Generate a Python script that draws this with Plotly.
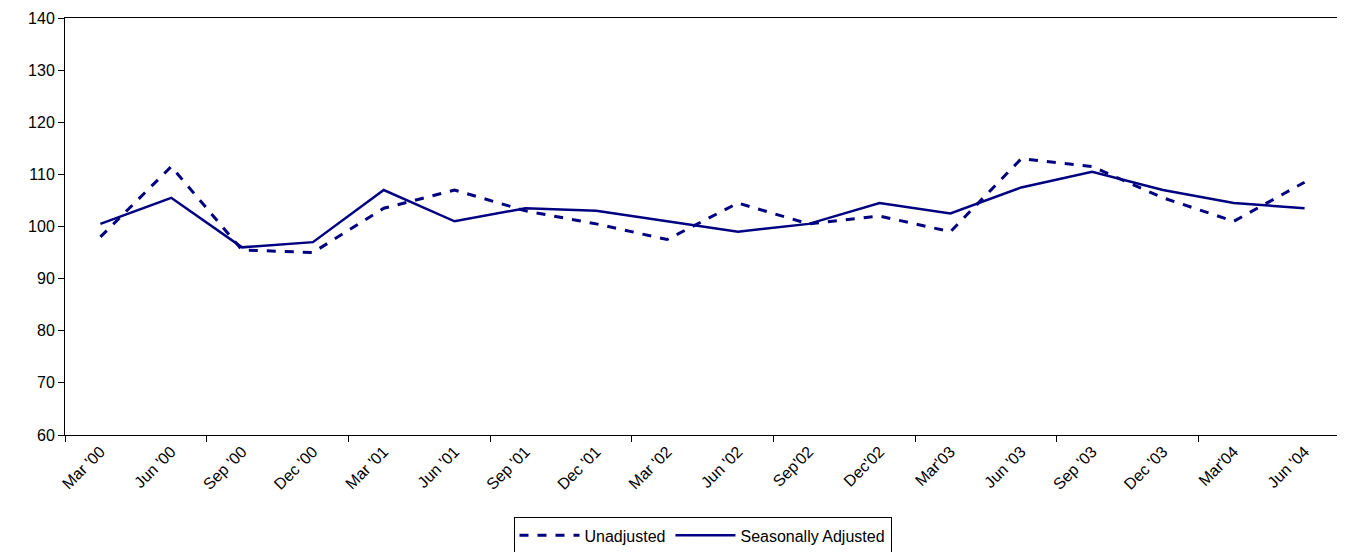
import plotly.graph_objects as go

quarters = ["Mar '00", "Jun '00", "Sep '00", "Dec '00", "Mar '01", "Jun '01", "Sep '01",
            "Dec '01", "Mar '02", "Jun '02", "Sep'02", "Dec'02", "Mar'03", "Jun '03",
            "Sep '03", "Dec '03", "Mar'04", "Jun '04"]
unadjusted = [98, 111.5, 95.5, 95, 103.5, 107, 103, 100.5, 97.5, 104.5, 100.5, 102,
              99, 113, 111.5, 105.5, 101, 108.5]
seasonal = [100.5, 105.5, 96, 97, 107, 101, 103.5, 103, 101, 99, 100.5, 104.5,
            102.5, 107.5, 110.5, 107, 104.5, 103.5]

xs = [i + 0.5 for i in range(len(quarters))]
navy = "#000080"

fig = go.Figure()
fig.add_trace(go.Scatter(x=xs, y=unadjusted, mode="lines", name="Unadjusted",
                         line=dict(color=navy, width=3, dash="dash")))
fig.add_trace(go.Scatter(x=xs, y=seasonal, mode="lines", name="Seasonally Adjusted",
                         line=dict(color=navy, width=2.5)))
# invisible trace to drive the tick-mark axis
fig.add_trace(go.Scatter(x=[0, 18], y=[60, 60], xaxis="x2", mode="none",
                         showlegend=False, hoverinfo="skip"))

fig.update_layout(
    width=1345, height=552,
    margin=dict(l=57, r=13, t=10, b=125),
    plot_bgcolor="white", paper_bgcolor="white",
    font=dict(family="Liberation Sans, Arial", size=16, color="black"),
    xaxis=dict(range=[0, 18], tickvals=xs, ticktext=quarters, tickangle=-45,
               ticks="", showgrid=False, zeroline=False, showline=True,
               linecolor="black", mirror=True, automargin=False),
    xaxis2=dict(range=[0, 18], overlaying="x", tickvals=list(range(0, 19, 2)),
                ticks="outside", ticklen=6, tickcolor="black", showticklabels=False,
                showgrid=False, zeroline=False, side="bottom", automargin=False),
    yaxis=dict(range=[60, 140], dtick=10, ticks="outside", ticklen=6,
               tickcolor="black", showgrid=False, zeroline=False, showline=True,
               linecolor="black", mirror=True, automargin=False),
    legend=dict(orientation="h", x=0.5, xanchor="center", xref="paper",
                y=0.012, yanchor="bottom", yref="container",
                bordercolor="black", borderwidth=1, font=dict(size=16),
                itemwidth=60),
)

fig.write_html("out.html")
